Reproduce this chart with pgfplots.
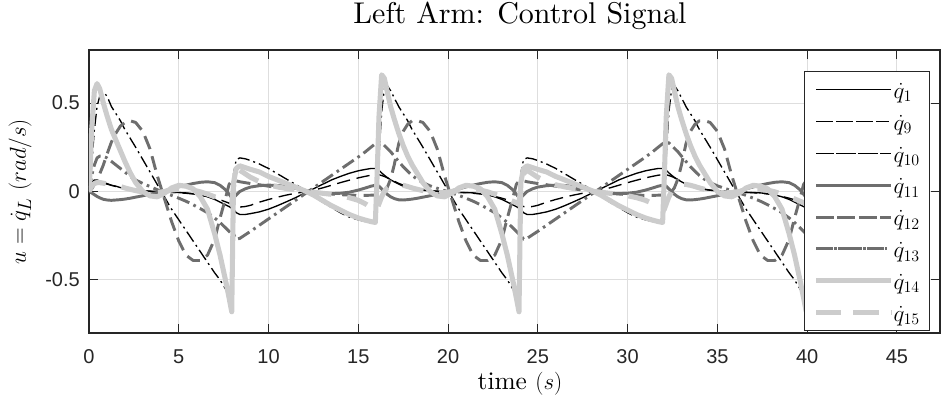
\documentclass[border=0pt]{standalone}
\usepackage{pgfplots}
\pgfplotsset{compat=1.18}
\usepackage{pgfplotstable}
\usepackage{fontspec}
\setsansfont{Liberation Sans}
\newfontfamily\tenrm{lmroman10-regular.otf}
\definecolor{axc}{rgb}{0.15,0.15,0.15}
\definecolor{midg}{RGB}{110,110,110}
\definecolor{lightg}{RGB}{204,204,204}
\definecolor{gridc}{RGB}{222,222,222}

\pgfplotstableread{
t q1 q9 q10 q11 q12 q13 q14 q15
0 0 0 0 0 0 0 0 0
0.05 0.02 0.015 0.03 -0.002 0.005 0.03 0.1 0.01
0.15 0.05 0.04 0.15 -0.008 0.015 0.09 0.35 0.03
0.3 0.065 0.052 0.35 -0.018 0.04 0.15 0.57 0.045
0.45 0.065 0.055 0.48 -0.028 0.07 0.19 0.61 0.05
0.6 0.06 0.053 0.54 -0.036 0.1 0.2 0.58 0.05
0.8 0.05 0.048 0.56 -0.044 0.15 0.2 0.5 0.047
1.0 0.045 0.042 0.54 -0.048 0.21 0.19 0.43 0.043
1.25 0.035 0.035 0.48 -0.05 0.28 0.17 0.35 0.04
1.5 0.03 0.028 0.44 -0.048 0.33 0.15 0.29 0.035
1.75 0.022 0.022 0.4 -0.046 0.37 0.13 0.23 0.028
2.0 0.016 0.018 0.35 -0.043 0.39 0.11 0.17 0.02
2.3 0.011 0.013 0.3 -0.038 0.4 0.085 0.105 0.012
2.6 0.007 0.008 0.25 -0.032 0.39 0.065 0.05 0.005
3.0 0.004 0.004 0.18 -0.024 0.34 0.045 0.0 -0.003
3.4 0.002 0.001 0.11 -0.015 0.24 0.028 -0.025 -0.008
3.8 0.0 -0.001 0.04 -0.006 0.09 0.01 -0.03 -0.006
4.2 -0.003 -0.003 -0.03 0.004 -0.04 -0.005 -0.01 0.0
4.6 -0.005 -0.005 -0.1 0.015 -0.17 -0.022 0.02 0.008
5.0 -0.006 -0.007 -0.16 0.026 -0.28 -0.038 0.035 0.013
5.4 -0.008 -0.01 -0.22 0.036 -0.36 -0.055 0.03 0.013
5.8 -0.012 -0.014 -0.28 0.045 -0.39 -0.075 0.015 0.008
6.2 -0.02 -0.02 -0.34 0.052 -0.39 -0.097 -0.03 -0.002
6.6 -0.03 -0.028 -0.4 0.055 -0.36 -0.12 -0.1 -0.015
7.0 -0.045 -0.038 -0.46 0.05 -0.27 -0.15 -0.24 -0.03
7.3 -0.06 -0.047 -0.5 0.035 -0.15 -0.175 -0.36 -0.042
7.6 -0.075 -0.058 -0.55 0.01 -0.04 -0.205 -0.5 -0.055
7.8 -0.085 -0.066 -0.58 -0.015 0.04 -0.225 -0.6 -0.063
7.95 -0.095 -0.072 -0.6 -0.035 0.06 -0.24 -0.68 -0.07
8.05 -0.1 -0.078 0.1 -0.035 0.06 -0.24 0.05 0.03
8.2 -0.12 -0.085 0.18 -0.02 0.06 -0.27 0.13 0.1
8.4 -0.13 -0.088 0.19 0.0 0.055 -0.265 0.145 0.12
8.7 -0.13 -0.085 0.185 0.015 0.05 -0.245 0.135 0.1
9.0 -0.125 -0.078 0.175 0.025 0.045 -0.225 0.125 0.08
9.5 -0.115 -0.06 0.155 0.033 0.038 -0.19 0.11 0.055
10.0 -0.1 -0.045 0.13 0.036 0.03 -0.155 0.085 0.038
10.5 -0.08 -0.032 0.1 0.034 0.022 -0.12 0.065 0.026
11.0 -0.058 -0.02 0.07 0.028 0.015 -0.085 0.045 0.017
11.5 -0.035 -0.01 0.04 0.018 0.008 -0.05 0.025 0.009
12.0 -0.01 -0.003 0.01 0.006 0.002 -0.015 0.005 0.002
12.5 0.015 0.008 -0.025 -0.004 -0.004 0.02 -0.02 -0.004
13.0 0.04 0.02 -0.06 -0.01 -0.01 0.055 -0.05 -0.01
13.5 0.065 0.035 -0.09 -0.012 -0.014 0.09 -0.08 -0.016
14.0 0.085 0.05 -0.12 -0.01 -0.018 0.125 -0.105 -0.024
14.5 0.103 0.064 -0.145 -0.004 -0.02 0.16 -0.13 -0.035
15.0 0.117 0.077 -0.16 0.008 -0.022 0.195 -0.15 -0.05
15.4 0.125 0.086 -0.17 0.02 -0.022 0.225 -0.162 -0.07
15.7 0.13 0.092 -0.172 0.03 -0.021 0.25 -0.17 -0.09
15.95 0.13 0.095 -0.17 0.035 -0.02 0.27 -0.175 -0.11
16.05 0.13 0.095 -0.05 0.035 -0.02 0.275 0.1 -0.1
16.15 0.12 0.095 0.2 0.03 -0.02 0.28 0.42 -0.07
16.3 0.105 0.09 0.45 0.015 -0.015 0.275 0.66 -0.03
16.45 0.092 0.085 0.58 0.0 0.0 0.26 0.64 0.0
16.6 0.08 0.078 0.6 -0.015 0.02 0.245 0.57 0.02
16.8 0.066 0.068 0.57 -0.03 0.07 0.225 0.48 0.035
17.0 0.055 0.058 0.53 -0.04 0.15 0.2 0.41 0.04
17.25 0.042 0.046 0.48 -0.047 0.27 0.17 0.33 0.04
17.5 0.03 0.036 0.44 -0.048 0.34 0.14 0.26 0.035
17.75 0.022 0.027 0.4 -0.046 0.38 0.115 0.2 0.028
18.0 0.016 0.02 0.35 -0.043 0.4 0.09 0.15 0.02
18.3 0.011 0.013 0.3 -0.038 0.4 0.068 0.1 0.012
18.6 0.007 0.008 0.25 -0.032 0.39 0.05 0.05 0.005
19.0 0.004 0.004 0.18 -0.024 0.34 0.032 0.0 -0.003
19.4 0.002 0.001 0.11 -0.015 0.24 0.018 -0.025 -0.008
19.8 0.0 -0.001 0.04 -0.006 0.09 0.005 -0.03 -0.006
20.2 -0.003 -0.003 -0.03 0.004 -0.04 -0.008 -0.01 0.0
20.6 -0.005 -0.005 -0.1 0.015 -0.17 -0.022 0.02 0.008
21.0 -0.006 -0.007 -0.16 0.026 -0.28 -0.038 0.035 0.013
21.4 -0.008 -0.01 -0.22 0.036 -0.36 -0.055 0.03 0.013
21.8 -0.012 -0.014 -0.28 0.045 -0.39 -0.075 0.015 0.008
22.2 -0.02 -0.02 -0.34 0.052 -0.39 -0.097 -0.03 -0.002
22.6 -0.03 -0.028 -0.4 0.055 -0.36 -0.12 -0.1 -0.015
23.0 -0.045 -0.038 -0.46 0.05 -0.27 -0.15 -0.24 -0.03
23.3 -0.06 -0.047 -0.5 0.035 -0.15 -0.175 -0.36 -0.042
23.6 -0.075 -0.058 -0.55 0.01 -0.04 -0.205 -0.5 -0.055
23.8 -0.085 -0.066 -0.58 -0.015 0.04 -0.225 -0.6 -0.063
23.95 -0.095 -0.072 -0.6 -0.035 0.06 -0.24 -0.68 -0.07
24.05 -0.1 -0.078 0.1 -0.035 0.06 -0.24 0.05 0.03
24.2 -0.12 -0.085 0.18 -0.02 0.06 -0.27 0.13 0.1
24.4 -0.13 -0.088 0.19 0.0 0.055 -0.265 0.145 0.12
24.7 -0.13 -0.085 0.185 0.015 0.05 -0.245 0.135 0.1
25.0 -0.125 -0.078 0.175 0.025 0.045 -0.225 0.125 0.08
25.5 -0.115 -0.06 0.155 0.033 0.038 -0.19 0.11 0.055
26.0 -0.1 -0.045 0.13 0.036 0.03 -0.155 0.085 0.038
26.5 -0.08 -0.032 0.1 0.034 0.022 -0.12 0.065 0.026
27.0 -0.058 -0.02 0.07 0.028 0.015 -0.085 0.045 0.017
27.5 -0.035 -0.01 0.04 0.018 0.008 -0.05 0.025 0.009
28.0 -0.01 -0.003 0.01 0.006 0.002 -0.015 0.005 0.002
28.5 0.015 0.008 -0.025 -0.004 -0.004 0.02 -0.02 -0.004
29.0 0.04 0.02 -0.06 -0.01 -0.01 0.055 -0.05 -0.01
29.5 0.065 0.035 -0.09 -0.012 -0.014 0.09 -0.08 -0.016
30.0 0.085 0.05 -0.12 -0.01 -0.018 0.125 -0.105 -0.024
30.5 0.103 0.064 -0.145 -0.004 -0.02 0.16 -0.13 -0.035
31.0 0.117 0.077 -0.16 0.008 -0.022 0.195 -0.15 -0.05
31.4 0.125 0.086 -0.17 0.02 -0.022 0.225 -0.162 -0.07
31.7 0.13 0.092 -0.172 0.03 -0.021 0.25 -0.17 -0.09
31.95 0.13 0.095 -0.17 0.035 -0.02 0.27 -0.175 -0.11
32.05 0.13 0.095 -0.05 0.035 -0.02 0.275 0.1 -0.1
32.15 0.12 0.095 0.2 0.03 -0.02 0.28 0.42 -0.07
32.3 0.105 0.09 0.45 0.015 -0.015 0.275 0.66 -0.03
32.45 0.092 0.085 0.58 0.0 0.0 0.26 0.64 0.0
32.6 0.08 0.078 0.6 -0.015 0.02 0.245 0.57 0.02
32.8 0.066 0.068 0.57 -0.03 0.07 0.225 0.48 0.035
33.0 0.055 0.058 0.53 -0.04 0.15 0.2 0.41 0.04
33.25 0.042 0.046 0.48 -0.047 0.27 0.17 0.33 0.04
33.5 0.03 0.036 0.44 -0.048 0.34 0.14 0.26 0.035
33.75 0.022 0.027 0.4 -0.046 0.38 0.115 0.2 0.028
34.0 0.016 0.02 0.35 -0.043 0.4 0.09 0.15 0.02
34.3 0.011 0.013 0.3 -0.038 0.4 0.068 0.1 0.012
34.6 0.007 0.008 0.25 -0.032 0.39 0.05 0.05 0.005
35.0 0.004 0.004 0.18 -0.024 0.34 0.032 0.0 -0.003
35.4 0.002 0.001 0.11 -0.015 0.24 0.018 -0.025 -0.008
35.8 0.0 -0.001 0.04 -0.006 0.09 0.005 -0.03 -0.006
36.2 -0.003 -0.003 -0.03 0.004 -0.04 -0.008 -0.01 0.0
36.6 -0.005 -0.005 -0.1 0.015 -0.17 -0.022 0.02 0.008
37.0 -0.006 -0.007 -0.16 0.026 -0.28 -0.038 0.035 0.013
37.4 -0.008 -0.01 -0.22 0.036 -0.36 -0.055 0.03 0.013
37.8 -0.012 -0.014 -0.28 0.045 -0.39 -0.075 0.015 0.008
38.2 -0.02 -0.02 -0.34 0.052 -0.39 -0.097 -0.03 -0.002
38.6 -0.03 -0.028 -0.4 0.055 -0.36 -0.12 -0.1 -0.015
39.0 -0.045 -0.038 -0.46 0.05 -0.27 -0.15 -0.24 -0.03
39.3 -0.06 -0.047 -0.5 0.035 -0.15 -0.175 -0.36 -0.042
39.6 -0.075 -0.058 -0.55 0.01 -0.04 -0.205 -0.5 -0.055
39.8 -0.085 -0.066 -0.58 -0.015 0.04 -0.225 -0.6 -0.063
39.95 -0.095 -0.072 -0.6 -0.035 0.06 -0.24 -0.68 -0.07
}\data

\begin{document}
\begin{tikzpicture}
\useasboundingbox (-66.75pt,-52.5pt) rectangle (642pt,249.75pt);
\begin{axis}[
  at={(0pt,0pt)}, anchor=south west,
  scale only axis, width=638.25pt, height=212.25pt,
  xmin=0, xmax=47.4, ymin=-0.8, ymax=0.8,
  xtick={0,5,10,15,20,25,30,35,40,45},
  xticklabels={0,5,10,15,20,25,30,35,40,45},
  ytick={-0.5,0,0.5}, yticklabels={-0.5,0,0.5},
  tick pos=both, tick align=inside, major tick length=6.4pt,
  every tick/.style={axc, line width=0.75pt},
  axis line style={axc, line width=0.9pt},
  grid=major, major grid style={gridc, line width=0.75pt},
  ticklabel style={font=\fontsize{15}{18}\selectfont\sffamily, text=axc},
  xticklabel style={anchor=north, inner sep=0pt, yshift=-12.4pt},
  yticklabel style={anchor=east, inner sep=0pt, xshift=-6.75pt},
  title={Left Arm: Control Signal},
  title style={font=\fontsize{22.5}{27}\selectfont\tenrm, at={(axis description cs:0.5065,1.0636)}, anchor=base, inner sep=0pt},
  xlabel={time $(s)$},
  xlabel style={font=\fontsize{19}{23}\selectfont\tenrm, at={(axis description cs:0.5065,-0.180)}, anchor=center},
  ylabel={$u=\dot{q}_L\ (rad/s)$},
  ylabel style={font=\fontsize{19}{23}\selectfont, at={(axis description cs:-0.081,0.5)}, anchor=center},
  every axis plot/.append style={line join=round},
  legend image code/.code={\path (-3pt,0pt) -- (53.25pt,0pt); \draw[#1] (0pt,0pt) -- (48.75pt,0pt);},
  legend cell align=left,
  legend style={at={(axis description cs:0.988,0.926)}, anchor=north east,
    draw=axc, line width=0.75pt, fill=white,
    font=\fontsize{18.5}{21}\selectfont,
    inner xsep=7pt, inner ysep=2.66pt, row sep=2pt,
    nodes={inner sep=0pt, text height=17.5pt, text depth=4.4pt}},
]
\addplot[black, line width=1pt] table[x=t,y=q1] {\data};
\addlegendentry{$\dot{q}_{1}$}
\addplot[black, line width=1pt, dash pattern=on 10pt off 5pt] table[x=t,y=q9] {\data};
\addlegendentry{$\dot{q}_{9}$}
\addplot[black, line width=1pt, dash pattern=on 9pt off 3pt on 1.5pt off 3pt] table[x=t,y=q10] {\data};
\addlegendentry{$\dot{q}_{10}$}
\addplot[midg, line width=2.2pt] table[x=t,y=q11] {\data};
\addlegendentry{$\dot{q}_{11}$}
\addplot[midg, line width=2.2pt, dash pattern=on 10.5pt off 5.5pt] table[x=t,y=q12] {\data};
\addlegendentry{$\dot{q}_{12}$}
\addplot[midg, line width=2.2pt, dash pattern=on 10pt off 3.5pt on 2pt off 3.5pt] table[x=t,y=q13] {\data};
\addlegendentry{$\dot{q}_{13}$}
\addplot[lightg, line width=3.8pt] table[x=t,y=q14] {\data};
\addlegendentry{$\dot{q}_{14}$}
\addplot[lightg, line width=3.8pt, dash pattern=on 16pt off 12pt] table[x=t,y=q15] {\data};
\addlegendentry{$\dot{q}_{15}$}
\end{axis}
\end{tikzpicture}
\end{document}
